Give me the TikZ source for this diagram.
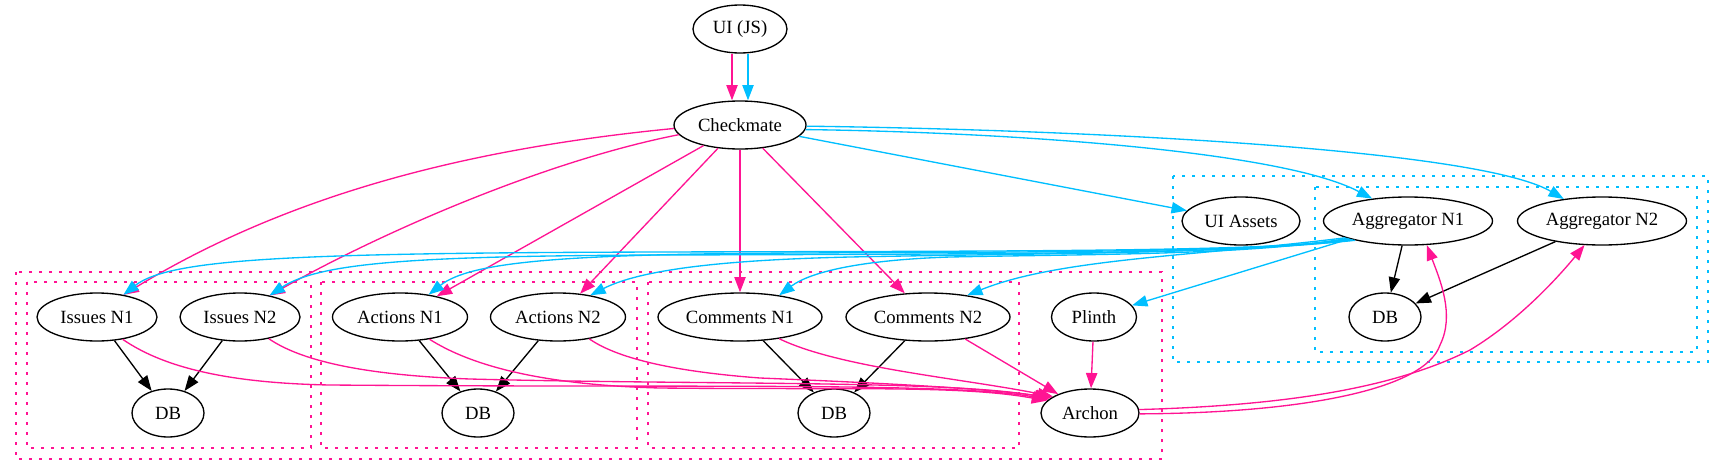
\documentclass[tikz,border=0pt]{standalone}
\usepackage{fontspec}
\setmainfont{Liberation Serif}
\usetikzlibrary{shapes.geometric,arrows.meta}
\definecolor{pk}{RGB}{255,20,147}
\definecolor{bl}{RGB}{0,191,255}
\tikzset{
  gnode/.style={ellipse, draw=black, line width=1pt, minimum height=36pt, inner sep=0pt, font=\fontsize{14}{16.8}\selectfont},
  arr/.style={line width=1pt, -{Triangle[length=11.5pt,width=8.5pt]}},
  kedge/.style={arr, color=black},
  pedge/.style={arr, color=pk},
  bedge/.style={arr, color=bl},
  pclus/.style={draw=pk, line width=1pt, dash pattern=on 2pt off 5.5pt},
  bclus/.style={draw=bl, line width=1pt, dash pattern=on 2pt off 5.5pt}
}
\begin{document}
\begin{tikzpicture}[x=0.75pt,y=-0.75pt]
\useasboundingbox (0,0) rectangle (1724,475);
% clusters
\draw[pclus] (16,272) rectangle (1162,459);
\draw[pclus] (27,282) rectangle (311,448);
\draw[pclus] (321,282) rectangle (637,448);
\draw[pclus] (648,282) rectangle (1019,448);
\draw[bclus] (1173,176) rectangle (1708,362);
\draw[bclus] (1315,187) rectangle (1697,352);
% nodes
\node[gnode, minimum width=70.5pt] (ui) at (740,29) {UI (JS)};
\node[gnode, minimum width=99pt] (cm) at (740,125) {Checkmate};
\node[gnode, minimum width=90pt] (iss1) at (97,317) {Issues N1};
\node[gnode, minimum width=90pt] (iss2) at (240,317) {Issues N2};
\node[gnode, minimum width=54pt] (dbi) at (168,413) {DB};
\node[gnode, minimum width=101.25pt] (act1) at (400,317) {Actions N1};
\node[gnode, minimum width=101.25pt] (act2) at (558,317) {Actions N2};
\node[gnode, minimum width=54pt] (dba) at (478,413) {DB};
\node[gnode, minimum width=123pt] (com1) at (740,317) {Comments N1};
\node[gnode, minimum width=123pt] (com2) at (928,317) {Comments N2};
\node[gnode, minimum width=54pt] (dbc) at (834,413) {DB};
\node[gnode, minimum width=63.75pt] (pl) at (1094,317) {Plinth};
\node[gnode, minimum width=73.5pt] (ar) at (1090,413) {Archon};
\node[gnode, minimum width=88.5pt] (uia) at (1241,221) {UI Assets};
\node[gnode, minimum width=126.75pt] (ag1) at (1408,221) {Aggregator N1};
\node[gnode, minimum width=126.75pt] (ag2) at (1602,221) {Aggregator N2};
\node[gnode, minimum width=54pt] (dbg) at (1385,317) {DB};
% black edges
\draw[kedge] (iss1) -- (dbi);
\draw[kedge] (iss2) -- (dbi);
\draw[kedge] (act1) -- (dba);
\draw[kedge] (act2) -- (dba);
\draw[kedge] (com1) -- (dbc);
\draw[kedge] (com2) -- (dbc);
\draw[kedge] (ag1) -- (dbg);
\draw[kedge] (ag2) -- (dbg);
% UI -> Checkmate
\draw[pedge] ([xshift=-6pt]ui.south) -- ([xshift=-6pt]cm.north);
\draw[bedge] ([xshift=6pt]ui.south) -- ([xshift=6pt]cm.north);
% Checkmate pink
\draw[pedge] (cm.-177) .. controls (474,148) and (293,192) .. (iss1.40);
\draw[pedge] (cm.-171) .. controls (549,160) and (386,230) .. (iss2.36);
\draw[pedge] (cm) -- (act1);
\draw[pedge] (cm) -- (act2);
\draw[pedge] (cm) -- (com1);
\draw[pedge] (cm) -- (com2);
% pink to Archon
\draw[pedge] (iss1.-41) .. controls (160,365) and (220,383) .. (330,385) .. controls (700,388) and (950,382) .. (ar.162);
\draw[pedge] (iss2.-37) .. controls (300,360) and (360,375) .. (470,379) .. controls (700,385) and (950,380) .. (ar.160);
\draw[pedge] (act1.-37) .. controls (470,365) and (540,385) .. (660,388) .. controls (850,390) and (960,385) .. (ar.164);
\draw[pedge] (act2.-35) .. controls (620,360) and (680,372) .. (760,378) .. controls (880,383) and (980,388) .. (ar.158);
\draw[pedge] (com1.-29) .. controls (840,368) and (960,378) .. (ar.156);
\draw[pedge] (com2) -- (ar);
\draw[pedge] (pl) -- (ar);
% Archon to aggregators
\draw[pedge] (ar.4) .. controls (1300,405) and (1400,385) .. (1470,350) .. controls (1520,320) and (1560,275) .. (ag2.-126);
\draw[pedge] (ar.-1) .. controls (1300,413) and (1425,390) .. (1440,345) .. controls (1455,315) and (1440,280) .. (ag1.-52);
% Checkmate blue
\draw[bedge] (cm) -- (uia);
\draw[bedge] (cm.-4) .. controls (1000,132) and (1280,150) .. (ag1.148);
\draw[bedge] (cm.-1) .. controls (1100,130) and (1480,150) .. (ag2.150);
% Aggregator N1 blue
\draw[bedge] (ag1) -- (pl);
\draw[bedge] (ag1.-160) .. controls (1250,252) and (1000,251) .. (660,252) .. controls (300,253) and (170,258) .. (iss1.40);
\draw[bedge] (ag1.-161) .. controls (1250,254) and (1000,254) .. (660,255) .. controls (420,256) and (320,262) .. (iss2.36);
\draw[bedge] (ag1.-162) .. controls (1250,253) and (1000,252) .. (800,253) .. controls (560,254) and (470,262) .. (act1.38);
\draw[bedge] (ag1.-163) .. controls (1250,254) and (1050,253) .. (850,257) .. controls (720,260) and (640,270) .. (act2.34);
\draw[bedge] (ag1.-164) .. controls (1250,255) and (1100,254) .. (950,257) .. controls (860,260) and (810,272) .. (com1.29);
\draw[bedge] (ag1.-165) .. controls (1200,256) and (1060,258) .. (com2.29);
\end{tikzpicture}
\end{document}
